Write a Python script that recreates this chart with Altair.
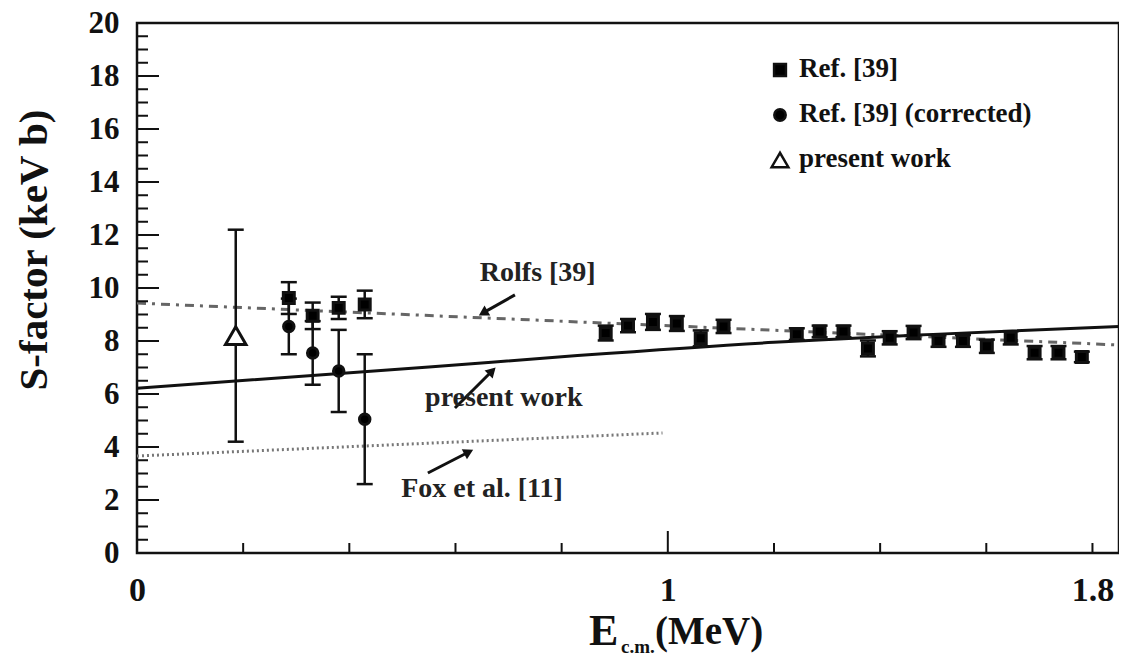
import altair as alt
import pandas as pd

# ---------------- data ----------------
# Ref. [39] (squares)
sq_x = [0.286, 0.331, 0.380, 0.429, 0.883, 0.925, 0.972, 1.017, 1.062, 1.105,
        1.243, 1.286, 1.331, 1.377, 1.418, 1.463, 1.510, 1.556, 1.601, 1.646,
        1.691, 1.736, 1.780]
sq_y = [9.62, 8.95, 9.25, 9.38, 8.30, 8.58, 8.72, 8.66, 8.10, 8.55,
        8.26, 8.36, 8.36, 7.72, 8.12, 8.32, 8.00, 8.00, 7.80, 8.12,
        7.56, 7.56, 7.40]
sq_err = [0.60, 0.50, 0.42, 0.52, 0.28, 0.25, 0.30, 0.28, 0.30, 0.25,
          0.22, 0.22, 0.22, 0.30, 0.25, 0.25, 0.22, 0.22, 0.25, 0.25,
          0.25, 0.25, 0.20]

# Ref. [39] (corrected) (circles)
co_x = [0.286, 0.331, 0.380, 0.429]
co_y = [8.55, 7.55, 6.87, 5.05]
co_err = [1.05, 1.20, 1.55, 2.45]

# present work (open triangle)
pw_x = [0.186]
pw_y = [8.20]
pw_err = [4.0]

# curves
present_line_x = [0.0, 0.55, 0.83, 1.20, 1.50, 1.85]
present_line_y = [6.22, 7.02, 7.45, 7.95, 8.25, 8.55]
rolfs_line_x = [0.0, 1.85]
rolfs_line_y = [9.43, 7.85]
fox_line_x = [0.0, 0.99]
fox_line_y = [3.66, 4.53]

# annotations
ann_text = ["Rolfs [39]", "present work", "Fox et al. [11]"]
ann_x = [0.755, 0.691, 0.650]
ann_y = [10.55, 5.85, 2.40]
arrow_x0 = [0.712, 0.599, 0.548]
arrow_y0 = [9.74, 5.47, 3.02]
arrow_x1 = [0.652, 0.669, 0.625]
arrow_y1 = [9.06, 6.87, 3.81]
arrow_angle = [240, 45, 63]

# axis ticks
x_tick_vals = [0.2, 0.4, 0.6, 0.8, 1.2, 1.4, 1.6, 1.8]
x_major_tick_vals = [1.0]
x_label_vals = [0, 1, 1.8]
y_major_vals = [0, 2, 4, 6, 8, 10, 12, 14, 16, 18, 20]
y_minor_vals = [0.5, 1, 1.5, 2.5, 3, 3.5, 4.5, 5, 5.5, 6.5, 7, 7.5, 8.5, 9, 9.5,
                10.5, 11, 11.5, 12.5, 13, 13.5, 14.5, 15, 15.5, 16.5, 17, 17.5,
                18.5, 19, 19.5]

series_names = ["Ref. [39]", "Ref. [39] (corrected)", "present work"]
series_shapes = ["square", "circle", "triangle-up"]
series_fills = ["black", "black", "white"]
series_sizes = [120, 110, 420]
legend_sizes = [140, 130, 280]

FONT = "Liberation Serif"

# ---------------- tables ----------------
pts = pd.DataFrame({
    "x": sq_x + co_x + pw_x,
    "y": sq_y + co_y + pw_y,
    "err": sq_err + co_err + pw_err,
    "series": [series_names[0]] * len(sq_x) + [series_names[1]] * len(co_x)
              + [series_names[2]] * len(pw_x),
})
pts["lo"] = pts["y"] - pts["err"]
pts["hi"] = pts["y"] + pts["err"]

present_df = pd.DataFrame({"x": present_line_x, "y": present_line_y})
rolfs_df = pd.DataFrame({"x": rolfs_line_x, "y": rolfs_line_y})
fox_df = pd.DataFrame({"x": fox_line_x, "y": fox_line_y})
ann_df = pd.DataFrame({"x": ann_x, "y": ann_y, "text": ann_text})
arrow_df = pd.DataFrame({"x": arrow_x0, "y": arrow_y0, "x2": arrow_x1,
                         "y2": arrow_y1, "angle": arrow_angle})
xt_df = pd.DataFrame({"x": x_tick_vals})
xmt_df = pd.DataFrame({"x": x_major_tick_vals})
ymaj_df = pd.DataFrame({"y": y_major_vals})
ymin_df = pd.DataFrame({"y": y_minor_vals})

# ---------------- scales / axes ----------------
xs = alt.Scale(domain=[0, 1.85], nice=False, zero=False)
ys = alt.Scale(domain=[0, 20], nice=False, zero=False)
xaxis = alt.Axis(values=x_label_vals, labelExpr="'' + datum.value", ticks=False,
                 domain=False, grid=False, title=None, labelFont=FONT,
                 labelFontWeight="bold", labelFontSize=34, labelPadding=20,
                 labelColor="#111", labelFlush=False)
yaxis = alt.Axis(values=y_major_vals, labelExpr="'' + datum.value", ticks=False,
                 domain=False, grid=False, title=None, labelFont=FONT,
                 labelFontWeight="bold", labelFontSize=31, labelPadding=18,
                 labelColor="#111", labelFlush=False)


def X(f="x"):
    return alt.X(f, type="quantitative", scale=xs, axis=xaxis)


def Y(f="y"):
    return alt.Y(f, type="quantitative", scale=ys, axis=yaxis)


# ---------------- layers ----------------
fox = alt.Chart(fox_df).mark_line(color="#777", strokeWidth=3,
                                  strokeDash=[2, 3]).encode(x=X(), y=Y())
rolfs = alt.Chart(rolfs_df).mark_line(color="#666", strokeWidth=3,
                                      strokeDash=[9, 6, 3, 6]).encode(x=X(), y=Y())
present = alt.Chart(present_df).mark_line(color="#111", strokeWidth=3,
                                          interpolate="monotone").encode(x=X(), y=Y())

bars = alt.Chart(pts).mark_rule(color="#111", strokeWidth=2.5).encode(
    x=X(), y=Y("lo"), y2=alt.Y2("hi"))
cap_lo = alt.Chart(pts).mark_tick(color="#111", orient="horizontal", size=16,
                                  thickness=2.5, opacity=1).encode(x=X(), y=Y("lo"))
cap_hi = alt.Chart(pts).mark_tick(color="#111", orient="horizontal", size=16,
                                  thickness=2.5, opacity=1).encode(x=X(), y=Y("hi"))

point_layers = []
for i, name in enumerate(series_names):
    point_layers.append(
        alt.Chart(pts).transform_filter(alt.datum.series == name).mark_point(
            shape=series_shapes[i], fill=series_fills[i], stroke="#111",
            strokeWidth=3, opacity=1, fillOpacity=1, size=series_sizes[i]).encode(
            x=X(), y=Y()))

# legend (drawn by hand, top right of the plot)
legend_layers = []
for i, name in enumerate(series_names):
    row = pd.DataFrame({"label": [name]})
    legend_layers.append(
        alt.Chart(row).mark_point(shape=series_shapes[i], fill=series_fills[i],
                                  stroke="#111", strokeWidth=2.5, opacity=1,
                                  fillOpacity=1, size=legend_sizes[i]).encode(
            x=alt.value(643), y=alt.value(47 + 45 * i)))
    legend_layers.append(
        alt.Chart(row).mark_text(font=FONT, fontWeight="bold", fontSize=27,
                                 color="#111", align="left",
                                 baseline="middle").encode(
            x=alt.value(662), y=alt.value(46 + 45 * i), text="label:N"))

# axis ticks drawn inward
ytick_major = alt.Chart(ymaj_df).mark_rule(color="#111", strokeWidth=2).encode(
    y=Y(), x=alt.value(0), x2=alt.value(22))
ytick_minor = alt.Chart(ymin_df).mark_rule(color="#111", strokeWidth=2).encode(
    y=Y(), x=alt.value(0), x2=alt.value(11))
xtick = alt.Chart(xt_df).mark_rule(color="#111", strokeWidth=2).encode(
    x=X(), y=alt.value(530), y2=alt.value(520))
xtick_major = alt.Chart(xmt_df).mark_rule(color="#111", strokeWidth=2).encode(
    x=X(), y=alt.value(530), y2=alt.value(508))

# annotations
ann = alt.Chart(ann_df).mark_text(font=FONT, fontWeight="bold", fontSize=28,
                                  color="#222", baseline="middle",
                                  align="center").encode(x=X(), y=Y(), text="text:N")
arrow_line = alt.Chart(arrow_df).mark_rule(color="#111", strokeWidth=3).encode(
    x=X(), y=Y(), x2=alt.X2("x2"), y2=alt.Y2("y2"))
arrow_head = alt.Chart(arrow_df).mark_point(shape="triangle-up", filled=True,
                                            color="#111", size=130, opacity=1).encode(
    x=X("x2"), y=Y("y2"), angle=alt.Angle("angle:Q", scale=None))

# axis titles
ytitle = alt.Chart(pd.DataFrame({"t": ["S-factor (keV b)"]})).mark_text(
    font=FONT, fontWeight="bold", fontSize=41, angle=270, color="#111",
    align="center", baseline="middle").encode(
    x=alt.value(-102), y=alt.value(227), text="t:N")
xtitle_e = alt.Chart(pd.DataFrame({"t": ["E"]})).mark_text(
    font=FONT, fontWeight="bold", fontSize=44, color="#111", align="left",
    baseline="alphabetic").encode(x=alt.value(452), y=alt.value(622), text="t:N")
xtitle_sub = alt.Chart(pd.DataFrame({"t": ["c.m."]})).mark_text(
    font=FONT, fontWeight="bold", fontSize=19, color="#111", align="left",
    baseline="alphabetic").encode(x=alt.value(484), y=alt.value(630), text="t:N")
xtitle_unit = alt.Chart(pd.DataFrame({"t": ["(MeV)"]})).mark_text(
    font=FONT, fontWeight="bold", fontSize=39, color="#111", align="left",
    baseline="alphabetic").encode(x=alt.value(518), y=alt.value(621), text="t:N")

chart = alt.layer(
    fox, rolfs, present, bars, cap_lo, cap_hi, *point_layers,
    ytick_major, ytick_minor, xtick, xtick_major,
    arrow_line, arrow_head, ann,
    *legend_layers,
    ytitle, xtitle_e, xtitle_sub, xtitle_unit,
).properties(
    width=982, height=530,
    autosize=alt.AutoSizeParams(type="none"),
    padding={"left": 129, "top": 15, "right": 0, "bottom": 106},
    background="white",
).configure_view(stroke="#111", strokeWidth=2.5)

chart.save("out.html", embed_options={"renderer": "svg", "actions": False})
